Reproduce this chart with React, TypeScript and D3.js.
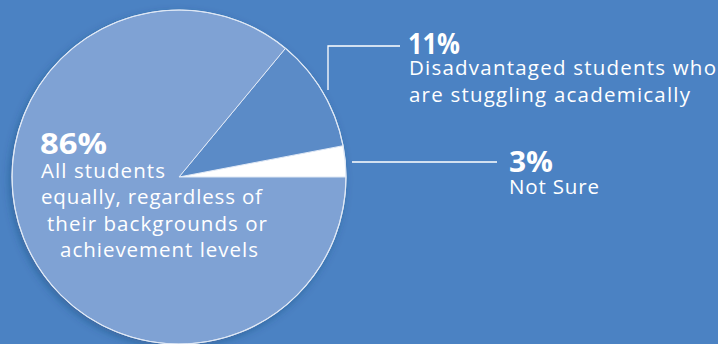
import React from "react";
import * as d3 from "d3";

const categories = [
  "All students equally, regardless of their backgrounds or achievement levels",
  "Disadvantaged students who are stuggling academically",
  "Not Sure",
];
const values = [86, 11, 3];
const percentLabels = ["86%", "11%", "3%"];
const labelLines = [
  ["All students", "equally, regardless of", "their backgrounds or", "achievement levels"],
  ["Disadvantaged students who", "are stuggling academically"],
  ["Not Sure"],
];

const W = 718;
const H = 344;
const BG = "#4b82c3";
const sliceColors = ["#7fa2d4", "#5b8bc7", "#ffffff"];
const FONT = "'Open Sans', 'DejaVu Sans', sans-serif";

// layout (positions only)
const cx = 179;
const cy = 177;
const R = 167;
const pctLayout = [
  { x: 40, y: 154, w: 67 },
  { x: 408, y: 54, w: 52 },
  { x: 509, y: 172, w: 44 },
];
const lineLayout = [
  [
    { x: 41, y: 178, w: 124 },
    { x: 41, y: 204, w: 221 },
    { x: 47, y: 231, w: 220 },
    { x: 60, y: 257, w: 198 },
  ],
  [
    { x: 409, y: 75, w: 307 },
    { x: 409, y: 102, w: 281 },
  ],
  [{ x: 509, y: 194, w: 90 }],
];

export default function App() {
  const data = values.map((v, i) => ({ v, i, name: categories[i] }));
  // counter-clockwise from east: Not Sure, Disadvantaged, All students
  const pie = d3
    .pie<{ v: number; i: number; name: string }>()
    .sort(null)
    .value((d) => d.v)
    .startAngle(Math.PI / 2)
    .endAngle(Math.PI / 2 - 2 * Math.PI);
  const arcs = pie([...data].reverse());
  const arcGen = d3
    .arc<d3.PieArcDatum<{ v: number; i: number; name: string }>>()
    .innerRadius(0)
    .outerRadius(R);

  const elevenPath = d3.line()([
    [328, 90],
    [328, 46],
    [400, 46],
  ]);
  const threePath = d3.line()([
    [352, 162],
    [497, 162],
  ]);

  return (
    <div style={{ position: "fixed", left: 0, top: 0, width: W, height: H }}>
      <svg width={W} height={H} style={{ display: "block" }}>
        <defs>
          <filter id="sh" x="-20%" y="-20%" width="140%" height="140%">
            <feDropShadow dx={-2} dy={3} stdDeviation={4} floodColor="#1f3f6a" floodOpacity={0.45} />
          </filter>
        </defs>
        <rect x={0} y={0} width={W} height={H} fill={BG} />
        <g transform={`translate(${cx},${cy})`}>
          <circle r={R} fill={sliceColors[0]} filter="url(#sh)" />
          {arcs.map((a) => (
            <path
              key={a.data.i}
              d={arcGen(a) || ""}
              fill={sliceColors[a.data.i]}
              stroke="#e8eef8"
              strokeWidth={1}
              strokeOpacity={0.9}
            />
          ))}
          <circle r={R} fill="none" stroke="#dfe8f5" strokeWidth={1.2} />
        </g>
        <path d={elevenPath || ""} fill="none" stroke="#ffffff" strokeWidth={1.3} />
        <path d={threePath || ""} fill="none" stroke="#ffffff" strokeWidth={1.3} />
        {percentLabels.map((p, i) => (
          <text
            key={"p" + i}
            x={pctLayout[i].x}
            y={pctLayout[i].y}
            fill="#ffffff"
            fontFamily={FONT}
            fontWeight={700}
            fontSize={29}
            textLength={pctLayout[i].w}
            lengthAdjust="spacingAndGlyphs"
          >
            {p}
          </text>
        ))}
        {labelLines.map((lines, i) =>
          lines.map((ln, j) => (
            <text
              key={"l" + i + "-" + j}
              x={lineLayout[i][j].x}
              y={lineLayout[i][j].y}
              fill="#ffffff"
              fontFamily={FONT}
              fontWeight={400}
              fontSize={20.5}
              textLength={lineLayout[i][j].w}
              lengthAdjust="spacing"
            >
              {ln}
            </text>
          ))
        )}
      </svg>
    </div>
  );
}
